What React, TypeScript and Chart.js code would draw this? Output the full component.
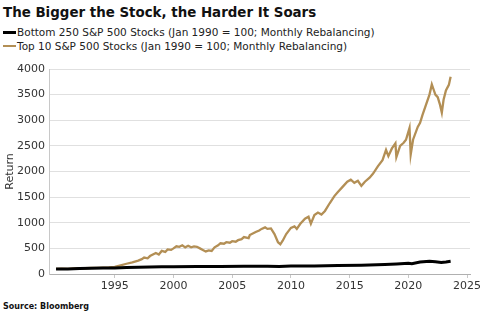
import React, { useEffect, useRef } from "react";
import { Chart, registerables } from "chart.js";

Chart.register(...registerables);

const TITLE = "The Bigger the Stock, the Harder It Soars";
const SERIES_NAMES = [
  "Bottom 250 S&P 500 Stocks (Jan 1990 = 100; Monthly Rebalancing)",
  "Top 10 S&P 500 Stocks (Jan 1990 = 100; Monthly Rebalancing)",
];
const SOURCE = "Source: Bloomberg";
const Y_TITLE = "Return";
const X_TICKS = [1995, 2000, 2005, 2010, 2015, 2020, 2025];
const Y_TICKS = [0, 500, 1000, 1500, 2000, 2500, 3000, 3500, 4000];

const bottomYears = [
  1990, 1991, 1992, 1993, 1994, 1995, 1996, 1997, 1998, 1999, 2000, 2002, 2004,
  2006, 2008, 2009, 2010, 2012, 2014, 2016, 2018, 2019, 2020, 2020.3, 2021,
  2021.8, 2022.3, 2022.8, 2023.2, 2023.6,
];
const bottomValues = [
  100, 100, 105, 110, 115, 118, 125, 132, 138, 140, 142, 145, 148, 152, 150,
  148, 155, 158, 165, 170, 185, 195, 210, 200, 232, 250, 240, 225, 235, 248,
];

const topYears = [
  1990, 1990.5, 1991, 1991.5, 1992, 1992.5, 1993, 1993.5, 1994, 1994.5, 1995,
  1995.5, 1996, 1996.5, 1997, 1997.3, 1997.5, 1997.8, 1998, 1998.5, 1998.75,
  1999, 1999.3, 1999.5, 1999.8, 2000, 2000.25, 2000.5, 2000.75, 2001,
  2001.25, 2001.5, 2001.75, 2002, 2002.25, 2002.5, 2002.75, 2003, 2003.25,
  2003.5, 2003.8, 2004, 2004.3, 2004.5, 2004.8, 2005, 2005.3, 2005.5, 2005.8,
  2006, 2006.4, 2006.5, 2007, 2007.3, 2007.5, 2007.8, 2008, 2008.3, 2008.6,
  2008.9, 2009.1, 2009.3, 2009.6, 2010, 2010.3, 2010.5, 2010.8, 2011.2, 2011.5,
  2011.7, 2012, 2012.3, 2012.6, 2012.9, 2013.3, 2013.7, 2014, 2014.4, 2014.8,
  2015.1, 2015.4, 2015.7, 2016, 2016.3, 2016.7, 2017, 2017.4, 2017.8, 2018.1,
  2018.3, 2018.6, 2018.9, 2018.98, 2019.3, 2019.6, 2019.8, 2020.1, 2020.2,
  2020.4, 2020.8, 2021, 2021.2, 2021.5, 2021.8, 2022, 2022.15, 2022.3, 2022.5,
  2022.7, 2022.85, 2023, 2023.2, 2023.45, 2023.6,
];
const topValues = [
  100, 105, 100, 110, 115, 112, 118, 120, 125, 128, 140, 170, 200, 225, 260,
  290, 320, 305, 350, 410, 380, 450, 430, 480, 470, 500, 540, 530, 560, 520,
  550, 520, 540, 530, 500, 470, 440, 460, 450, 520, 560, 600, 590, 620, 610,
  640, 630, 660, 680, 720, 700, 760, 820, 850, 880, 910, 880, 890, 780, 620,
  580, 650, 780, 900, 930, 880, 980, 1080, 1120, 980, 1150, 1200, 1160, 1230,
  1380, 1520, 1600, 1700, 1800, 1840, 1780, 1820, 1720, 1800, 1880, 1960,
  2100, 2220, 2420, 2300, 2450, 2550, 2280, 2500, 2560, 2620, 2850, 2330, 2620,
  2870, 2950, 3100, 3300, 3500, 3700, 3600, 3500, 3450, 3300, 3150, 3400, 3580,
  3690, 3850,
];

const BLACK = "#000000";
const GOLD = "#b38f55";
const FONT = "'DejaVu Sans', Verdana, sans-serif";

export default function App() {
  const ref = useRef<HTMLCanvasElement>(null);

  useEffect(() => {
    document.body.style.margin = "0";
    const ctx = ref.current!.getContext("2d")!;
    const chart = new Chart(ctx, {
      type: "line",
      data: {
        datasets: [
          {
            label: SERIES_NAMES[0],
            data: bottomYears.map((x, i) => ({ x, y: bottomValues[i] })),
            borderColor: BLACK,
            borderWidth: 3,
            pointRadius: 0,
            tension: 0,
          },
          {
            label: SERIES_NAMES[1],
            data: topYears.map((x, i) => ({ x, y: topValues[i] })),
            borderColor: GOLD,
            borderWidth: 2.3,
            pointRadius: 0,
            tension: 0,
          },
        ],
      },
      options: {
        animation: false,
        responsive: false,
        maintainAspectRatio: false,
        layout: { padding: { top: 13, right: 15, left: 0, bottom: 0 } },
        plugins: {
          legend: { display: false },
          tooltip: { enabled: false },
          title: { display: false },
        },
        scales: {
          x: {
            type: "linear",
            min: 1989.4,
            max: 2025.25,
            afterBuildTicks: (s: any) => {
              s.ticks = X_TICKS.map((v) => ({ value: v }));
            },
            afterFit: (s: any) => {
              s.height = 26;
            },
            ticks: {
              color: "#333",
              font: { family: FONT, size: 11 },
              padding: 2,
              maxRotation: 0,
              callback: (v: any) => String(v),
            },
            grid: {
              drawOnChartArea: false,
              drawTicks: true,
              tickLength: 4,
              color: "#c8c8c8",
            },
            border: { color: "#b0b0b0", width: 1 },
          },
          y: {
            type: "linear",
            min: 0,
            max: 4000,
            afterBuildTicks: (s: any) => {
              s.ticks = Y_TICKS.map((v) => ({ value: v }));
            },
            afterFit: (s: any) => {
              s.width = 49;
            },
            ticks: {
              color: "#333",
              font: { family: FONT, size: 11 },
              padding: 4,
              callback: (v: any) => String(v),
            },
            grid: { color: "#e0e0e0", drawTicks: false },
            border: { color: "#c8c8c8", width: 1 },
            title: {
              display: true,
              text: Y_TITLE,
              color: "#333",
              font: { family: FONT, size: 11 },
              padding: { top: 4, bottom: 0 },
            },
          },
        },
      },
    });
    return () => chart.destroy();
  }, []);

  const legendRow = (color: string, text: string, top: number, w: number) => (
    <div
      style={{
        position: "absolute",
        left: 3,
        top,
        fontFamily: FONT,
        fontSize: 10.5,
        lineHeight: 1,
        color: "#222",
        whiteSpace: "nowrap",
        display: "flex",
        alignItems: "center",
      }}
    >
      <span
        style={{
          display: "inline-block",
          width: 13,
          height: w,
          background: color,
          marginRight: 1,
        }}
      />
      <span>{text}</span>
    </div>
  );

  return (
    <div style={{ position: "relative", width: 485, height: 326, background: "#fff", overflow: "hidden" }}>
      <div
        style={{
          position: "absolute",
          left: 3,
          top: 6,
          fontFamily: FONT,
          fontWeight: "bold",
          fontSize: 13.4,
          lineHeight: 1,
          color: "#111",
          whiteSpace: "nowrap",
        }}
      >
        {TITLE}
      </div>
      {legendRow(BLACK, SERIES_NAMES[0], 27.1, 3)}
      {legendRow(GOLD, SERIES_NAMES[1], 41.1, 2)}
      <canvas
        ref={ref}
        width={485}
        height={244}
        style={{ position: "absolute", left: 0, top: 56, width: 485, height: 244 }}
      />
      <div
        style={{
          position: "absolute",
          left: 3,
          top: 302.5,
          fontFamily: FONT,
          fontWeight: "bold",
          fontSize: 8,
          lineHeight: 1,
          color: "#111",
          whiteSpace: "nowrap",
        }}
      >
        {SOURCE}
      </div>
    </div>
  );
}
